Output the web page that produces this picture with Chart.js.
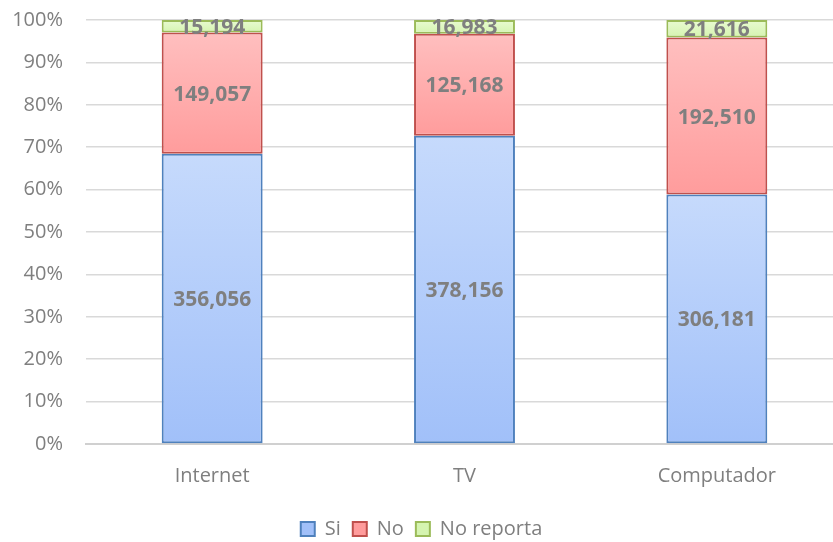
<!DOCTYPE html>
<html><head><meta charset="utf-8">
<script src="https://cdn.jsdelivr.net/npm/chart.js@4.4.0/dist/chart.umd.min.js"></script>
<style>html,body{margin:0;padding:0;overflow:hidden;background:#fff;width:833px;height:542px}canvas{display:block}</style>
</head><body>
<canvas id="c" width="874" height="549" style="width:874px;height:549px"></canvas>
<script>
const categories = ["Internet", "TV", "Computador"];
const seriesNames = ["Si", "No", "No reporta"];
const siValues = [356056, 378156, 306181];
const noValues = [149057, 125168, 192510];
const noReportaValues = [15194, 16983, 21616];
const yTicks = [0,10,20,30,40,50,60,70,80,90,100];

const raw = [siValues, noValues, noReportaValues];
const totals = categories.map((_, i) => raw.reduce((s, a) => s + a[i], 0));
const pct = raw.map(a => a.map((v, i) => v / totals[i] * 100));

const fillTop = ['#c6dafc', '#ffbfbf', '#e9fbd2'];
const fillBot = ['#a1c0f9', '#ff9c9c', '#d5f4b0'];
const borders = ['#4f81bd', '#c0504d', '#9bbb59'];
const FONT = "'Open Sans', sans-serif";

function grad(ds) {
  return function(ctx) {
    const chart = ctx.chart;
    const y = chart.scales && chart.scales.y;
    if (!y || ctx.type !== 'data') return fillBot[ds];
    const i = ctx.dataIndex;
    let start = 0;
    for (let k = 0; k < ds; k++) start += pct[k][i];
    const end = start + pct[ds][i];
    const y0 = y.getPixelForValue(end), y1 = y.getPixelForValue(start);
    if (!isFinite(y0) || !isFinite(y1) || y0 === y1) return fillBot[ds];
    const g = chart.ctx.createLinearGradient(0, y0, 0, y1);
    g.addColorStop(0, fillTop[ds]);
    g.addColorStop(1, fillBot[ds]);
    return g;
  };
}

const labelPlugin = {
  id: 'valueLabels',
  afterDatasetsDraw(chart) {
    const c = chart.ctx;
    c.save();
    c.font = "bold 21px " + FONT;
    c.fillStyle = '#7f7f7f';
    c.textAlign = 'center';
    c.textBaseline = 'middle';
    chart.data.datasets.forEach((ds, d) => {
      chart.getDatasetMeta(d).data.forEach((el, i) => {
        const yc = (el.y + el.base) / 2;
        c.fillText(raw[d][i].toLocaleString('en-US'), el.x, yc + 1.5);
      });
    });
    c.restore();
  }
};

new Chart(document.getElementById('c'), {
  type: 'bar',
  data: {
    labels: categories,
    datasets: seriesNames.map((n, d) => ({
      label: n,
      data: pct[d],
      backgroundColor: grad(d),
      borderColor: borders[d],
      borderWidth: 2,
      borderSkipped: false,
      barPercentage: 0.4,
      categoryPercentage: 1.0
    }))
  },
  options: {
    responsive: false,
    animation: false,
    layout: { padding: { top: 20, right: 31, left: 0, bottom: 0 } },
    plugins: {
      legend: {
        position: 'bottom',
        labels: {
          color: '#7f7f7f',
          font: { family: FONT, size: 20 },
          boxWidth: 14, boxHeight: 14, padding: 12,
          generateLabels(chart) {
            return seriesNames.map((n, d) => ({
              text: n, fillStyle: fillBot[d], strokeStyle: borders[d], lineWidth: 2,
              fontColor: '#7f7f7f', datasetIndex: d, hidden: false
            }));
          }
        }
      },
      tooltip: { enabled: false }
    },
    scales: {
      x: {
        stacked: true,
        grid: { display: false, drawTicks: false },
        border: { display: true, color: '#d0d0d0', width: 2 },
        ticks: { color: '#7f7f7f', font: { family: FONT, size: 20 }, padding: 20 },
        afterFit(s) { s.height = 63; }
      },
      y: {
        stacked: true,
        min: 0, max: 100,
        afterBuildTicks(s) { s.ticks = yTicks.map(v => ({ value: v })); },
        grid: { color: '#d9d9d9', lineWidth: 1.5, drawTicks: true, tickLength: 23, tickColor: 'rgba(0,0,0,0)' },
        border: { display: false },
        ticks: { color: '#7f7f7f', font: { family: FONT, size: 20 }, padding: 0, callback: v => v + '%' },
        afterFit(s) { s.width = 86; }
      }
    }
  },
  plugins: [labelPlugin]
});
</script>
</body></html>
